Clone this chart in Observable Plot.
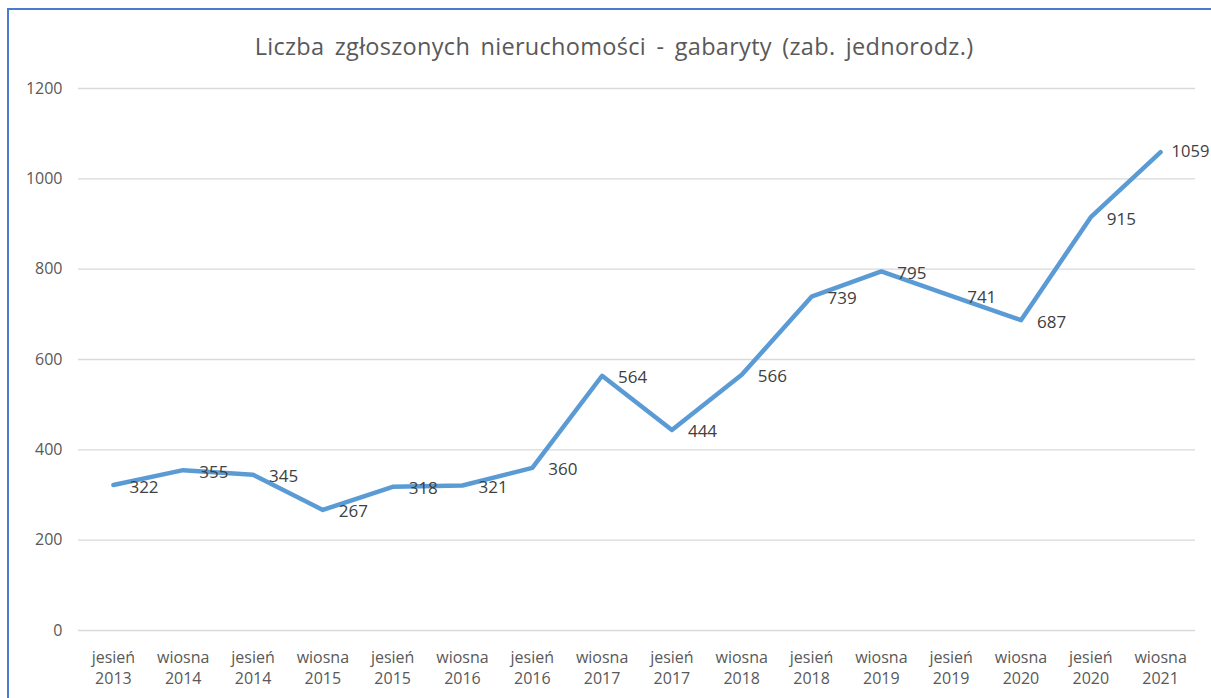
<!DOCTYPE html>
<html>
<head>
<meta charset="utf-8">
<script src="https://cdn.jsdelivr.net/npm/d3@7"></script>
<script src="https://cdn.jsdelivr.net/npm/@observablehq/plot@0.6"></script>
<style>
  html, body { margin: 0; padding: 0; background: #fff; }
  body { width: 1211px; height: 698px; position: relative; overflow: hidden; font-family: "Open Sans", sans-serif; }
  #frame { position: absolute; left: 7px; top: 8px; width: 1250px; height: 750px; border-top: 2px solid #4a7bd0; border-left: 2px solid #4a7bd0; box-sizing: border-box; }
  #title { position: absolute; left: 0; top: 0; width: 1228px; height: 70px; line-height: 92px; text-align: center; font-size: 23.5px; letter-spacing: 0.3px; word-spacing: 4px; color: #595959; }
  #chart { position: absolute; left: 0; top: 70px; }
</style>
</head>
<body>
<div id="frame"></div>
<div id="title">Liczba zgłoszonych nieruchomości - gabaryty (zab. jednorodz.)</div>
<div id="chart"></div>
<script>
const categories = [
  "jesień\n2013", "wiosna\n2014", "jesień\n2014", "wiosna\n2015",
  "jesień\n2015", "wiosna\n2016", "jesień\n2016", "wiosna\n2017",
  "jesień\n2017", "wiosna\n2018", "jesień\n2018", "wiosna\n2019",
  "jesień\n2019", "wiosna\n2020", "jesień\n2020", "wiosna\n2021"
];
const values = [322, 355, 345, 267, 318, 321, 360, 564, 444, 566, 739, 795, 741, 687, 915, 1059];
const yTicks = [0, 200, 400, 600, 800, 1000, 1200];

const data = categories.map((c, i) => ({category: c, value: values[i], last: i === categories.length - 1}));

const chart = Plot.plot({
  width: 1211,
  height: 628,
  marginLeft: 78,
  marginRight: 16,
  marginTop: 18,
  marginBottom: 68,
  style: {fontFamily: "Open Sans, sans-serif", color: "#595959", background: "transparent"},
  x: {type: "point", domain: categories, padding: 0.5, round: false},
  y: {domain: [0, 1200]},
  marks: [
    Plot.gridY(yTicks, {stroke: "#d9d9d9", strokeOpacity: 1, strokeWidth: 1.3}),
    Plot.axisY(yTicks, {tickSize: 0, tickPadding: 16, fontSize: 16, fill: "#595959", label: null, tickFormat: d => String(d)}),
    Plot.axisX({tickSize: 0, tickPadding: 17, fontSize: 16, fill: "#595959", lineHeight: 1.32, label: null}),
    Plot.line(data, {x: "category", y: "value", stroke: "#5b9bd5", strokeWidth: 4.5, strokeLinejoin: "round", strokeLinecap: "round"}),
    Plot.text(data.filter(d => !d.last), {x: "category", y: "value", text: d => String(d.value), textAnchor: "start", dx: 16, dy: 2, fontSize: 17, fill: "#404040"}),
    Plot.text(data.filter(d => d.last), {x: "category", y: "value", text: d => String(d.value), textAnchor: "start", dx: 11, dy: 0, fontSize: 16.5, fill: "#404040"})
  ]
});
document.getElementById("chart").appendChild(chart);
</script>
</body>
</html>
